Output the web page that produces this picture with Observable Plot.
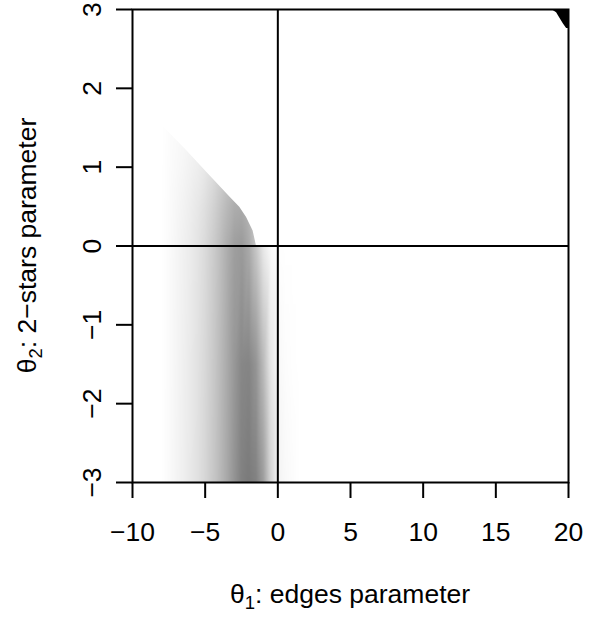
<!DOCTYPE html>
<html><head><meta charset="utf-8">
<script src="https://cdn.jsdelivr.net/npm/d3@7"></script>
<script src="https://cdn.jsdelivr.net/npm/@observablehq/plot@0.6"></script>
<style>body{margin:0;background:#fff}</style>
</head><body><div id="chart"></div>
<script>
const theta1Grid = [-8.5,-8,-7.5,-7,-6.5,-6,-5.5,-5,-4.5,-4,-3.5,-3,-2.5,-2,-1.5,-1,-0.5,0,0.5,1,1.5];
const theta2Rows = [-3, -1.5, 0, 0.5, 1, 1.5, 2];
// darkness (0 = white, 1 = black) along each row
const shadeRowM3  = [0,0,.018,.040,.062,.088,.118,.158,.210,.272,.340,.420,.495,.520,.490,.380,.170,.045,.024,.012,0];
const shadeRowM15 = [0,0,.016,.038,.060,.084,.114,.152,.202,.265,.332,.405,.470,.480,.415,.270,.095,.027,.012,.004,0];
const shadeRow0   = [0,0,.016,.035,.056,.077,.105,.142,.192,.252,.318,.378,.395,.335,.220,.090,.020,.004,0,0,0];
const shadeRow05  = [0,0,.014,.031,.048,.068,.092,.125,.167,.222,.275,.320,.332,.285,.180,.062,.012,0,0,0,0];
const shadeRow1   = [0,0,.012,.024,.036,.052,.068,.092,.124,.166,.208,.242,.252,.225,.150,.050,.012,0,0,0,0];
const shadeRow15  = [0,0,.010,.018,.025,.036,.048,.064,.088,.118,.148,.168,.178,.158,.100,.040,0,0,0,0,0];
const shadeRow2   = [0,0,0,0,0,0,0,0,0,0,0,0,0,0,0,0,0,0,0,0,0];
const shadeRows = [shadeRowM3, shadeRowM15, shadeRow0, shadeRow05, shadeRow1, shadeRow15, shadeRow2];

// upper edge of the shaded region (everything above is empty)
const edgeTheta1 = [-8.5, -7.66, -6.28, -4.91, -3.30, -2.62, -2.15, -1.70, -1.47, 1.5];
const edgeTheta2 = [1.6, 1.47, 1.21, 0.94, 0.62, 0.49, 0.36, 0.19, 0.0, 0.0];

// black corner at the top right
const cornerTheta1 = [18.84, 19.18, 19.41, 19.64, 19.87, 20];
const cornerTheta2 = [3.0, 2.96, 2.89, 2.82, 2.76, 2.76];

// axes
const xTicks = [-10, -5, 0, 5, 10, 15, 20];
const xTickLabels = ["\u221210", "\u22125", "0", "5", "10", "15", "20"];
const yTicks = [-3, -2, -1, 0, 1, 2, 3];
const yTickLabels = ["\u22123", "\u22122", "\u22121", "0", "1", "2", "3"];

const cells = [];
theta2Rows.forEach((t2, r) => theta1Grid.forEach((t1, c) => cells.push({t1, t2, v: shadeRows[r][c]})));

const xLab = new Map(xTicks.map((t, i) => [t, xTickLabels[i]]));
const yLab = new Map(yTicks.map((t, i) => [t, yTickLabels[i]]));
const FS = 26.5;

const plot = Plot.plot({
  width: 592, height: 619,
  marginLeft: 132, marginRight: 24, marginTop: 9, marginBottom: 137,
  style: {fontFamily: "'Liberation Sans', Arial, sans-serif", fontSize: FS + "px", background: "white", color: "black"},
  x: {domain: [-10, 20]},
  y: {domain: [-3, 3]},
  color: {type: "linear", domain: [0, 1], range: ["#ffffff", "#000000"], interpolate: "rgb"},
  marks: [
    Plot.raster(cells, {x: "t1", y: "t2", fill: "v", interpolate: "barycentric",
      x1: theta1Grid[0], x2: theta1Grid[theta1Grid.length - 1], y1: theta2Rows[0], y2: theta2Rows[theta2Rows.length - 1]}),
    Plot.areaY(edgeTheta1, {x: edgeTheta1, y1: edgeTheta2, y2: 3, fill: "white"}),
    Plot.areaY(cornerTheta1, {x: cornerTheta1, y1: cornerTheta2, y2: 3, fill: "black"}),
    Plot.ruleX([0], {stroke: "black", strokeWidth: 2}),
    Plot.ruleY([0], {stroke: "black", strokeWidth: 2}),
    Plot.frame({stroke: "black", strokeWidth: 2}),
    Plot.axisX(xTicks, {anchor: "bottom", tickSize: 16, tickPadding: 24, tickFormat: d => xLab.get(d),
      fontSize: FS, strokeWidth: 2, label: null}),
    Plot.axisY(yTicks, {anchor: "left", tickSize: 16, tickPadding: 16, tickRotate: -90, tickFormat: d => yLab.get(d),
      fontSize: FS, strokeWidth: 2, label: null})
  ]
});
document.getElementById("chart").appendChild(plot);

const svg = d3.select(plot);
const xr = plot.scale("x").range, yr = plot.scale("y").range;
const cx = (xr[0] + xr[1]) / 2, cy = (yr[0] + yr[1]) / 2;
const xt = svg.append("text").attr("x", cx).attr("y", 603).attr("text-anchor", "middle")
  .attr("font-size", FS).attr("fill", "black");
xt.append("tspan").text("\u03b8");
xt.append("tspan").attr("font-size", 18.5).attr("dy", 6).text("1");
xt.append("tspan").attr("dy", -6).text(": edges parameter");
const yt = svg.append("text").attr("transform", `translate(36,${cy}) rotate(-90)`).attr("text-anchor", "middle")
  .attr("font-size", FS).attr("fill", "black");
yt.append("tspan").text("\u03b8");
yt.append("tspan").attr("font-size", 18.5).attr("dy", 6).text("2");
yt.append("tspan").attr("dy", -6).text(": 2\u2212stars parameter");
</script></body></html>
